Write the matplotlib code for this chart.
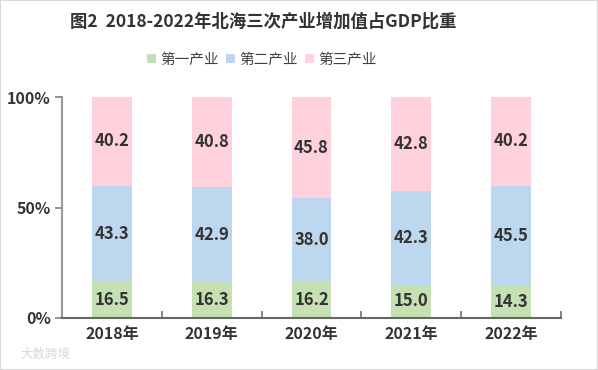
import matplotlib
matplotlib.use("Agg")
import matplotlib.pyplot as plt
from matplotlib.patches import Rectangle

plt.rcParams['font.family'] = ['Noto Sans CJK SC', 'DejaVu Sans']

years = ["2018年", "2019年", "2020年", "2021年", "2022年"]
primary = [16.5, 16.3, 16.2, 15.0, 14.3]
secondary = [43.3, 42.9, 38.0, 42.3, 45.5]
tertiary = [40.2, 40.8, 45.8, 42.8, 40.2]
series_names = ["第一产业", "第二产业", "第三产业"]
yticks = [0, 50, 100]
ytick_labels = ["0%", "50%", "100%"]
title = "图2  2018-2022年北海三次产业增加值占GDP比重"

colors = ["#C5E0B3", "#BDD7EE", "#FFD1DC"]
text_color = "#333333"

fig = plt.figure(figsize=(5.98, 3.70), dpi=100)
ax = fig.add_axes([62/598, 1-318/370, (561-62)/598, (318-97)/370])

x = list(range(len(years)))
width = 0.4
bottom = [0]*len(years)
for vals, col, name in zip([primary, secondary, tertiary], colors, series_names):
    ax.bar(x, vals, width, bottom=bottom, color=col, label=name, linewidth=0)
    for xi, v, b in zip(x, vals, bottom):
        ax.text(xi, b + v/2, f"{v:.1f}", ha="center", va="center",
                fontsize=12, fontweight="bold", color=text_color)
    bottom = [b + v for b, v in zip(bottom, vals)]

ax.set_xlim(-0.5, len(years)-0.5)
ax.set_ylim(0, 100)
ax.set_yticks(yticks)
ax.set_yticklabels(ytick_labels, fontsize=11.5, fontweight="bold", color=text_color)
ax.set_xticks(x)
ax.set_xticklabels(years, fontsize=11.5, fontweight="bold", color=text_color)
ax.tick_params(axis="x", length=0, pad=6)
ax.set_xticks([i - 0.5 for i in range(len(years)+1)], minor=True)
ax.tick_params(axis="x", which="minor", direction="in", length=5, color="#707070", width=1.2)
ax.tick_params(axis="y", direction="out", length=5, color="#808080", width=1.2, pad=3)
for s in ["top", "right"]:
    ax.spines[s].set_visible(False)
ax.spines["left"].set_color("#999999")
ax.spines["left"].set_linewidth(1.5)
ax.spines["bottom"].set_color("#666666")
ax.spines["bottom"].set_linewidth(1.5)

fig.text(263/598, 1-22/370, title, ha="center", va="center", fontsize=12.5,
         fontweight="bold", color=text_color)

fig.legend(loc="center", bbox_to_anchor=(262/598, 1-60/370), ncol=3, frameon=False,
           fontsize=10.5, handlelength=0.6, handleheight=0.6, handletextpad=0.3,
           columnspacing=0.5, labelcolor="#404040")

fig.text(20/598, 1-354/370, "大数跨境", ha="left", va="center", fontsize=9, color="#d8d8d8")

fig.patches.append(Rectangle((0, 0), 1, 1, transform=fig.transFigure, fill=False,
                             edgecolor="#d9d9d9", linewidth=1.5))

fig.savefig("out.png", dpi=100)
